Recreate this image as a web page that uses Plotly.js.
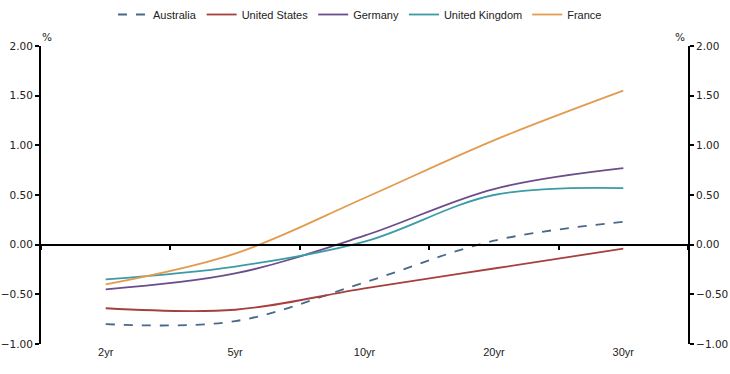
<!DOCTYPE html>
<html>
<head>
<meta charset="utf-8">
<script src="https://cdn.plot.ly/plotly-3.0.1.min.js"></script>
<style>html,body{margin:0;padding:0;background:#fff;}#chart{width:730px;height:374px;}</style>
</head>
<body>
<div id="chart"></div>
<script>
var categories = ["2yr", "5yr", "10yr", "20yr", "30yr"];
var seriesNames = ["Australia", "United States", "Germany", "United Kingdom", "France"];
var australia = [-0.80, -0.77, -0.38, 0.04, 0.23];
var unitedStates = [-0.64, -0.655, -0.44, -0.24, -0.04];
var germany = [-0.45, -0.29, 0.09, 0.56, 0.77];
var unitedKingdom = [-0.35, -0.22, 0.03, 0.50, 0.57];
var france = [-0.40, -0.09, 0.47, 1.05, 1.55];
var yTicks = [-1, -0.5, 0, 0.5, 1, 1.5, 2];

var colors = ["#4a6888", "#a5403e", "#6b4c8c", "#3c9ba6", "#e29b4f"];
var dashes = ["dash", "solid", "solid", "solid", "solid"];
var values = [australia, unitedStates, germany, unitedKingdom, france];

var FONT = "'Liberation Sans', Arial, sans-serif";
var TICKFONT = "'DejaVu Sans', Verdana, sans-serif";

var traces = values.map(function (v, i) {
  return {
    type: "scatter", mode: "lines", x: categories, y: v, name: seriesNames[i],
    xaxis: "x", yaxis: "y",
    line: {color: colors[i], width: 1.8, dash: dashes[i], shape: "spline", smoothing: 1}
  };
});
traces.push({type: "scatter", mode: "lines", x: categories, y: categories.map(function(){return null;}),
  xaxis: "x2", yaxis: "y2", showlegend: false, hoverinfo: "skip"});

var yCommon = {
  range: [-1, 2], tickmode: "array", tickvals: yTicks, tickformat: ".2f",
  showgrid: false, zeroline: false, showline: true, linecolor: "#000", linewidth: 2,
  ticks: "outside", ticklen: 4, tickwidth: 2, tickcolor: "#000",
  tickfont: {family: TICKFONT, size: 10.5, color: "#222"}, fixedrange: true
};

var layout = {
  width: 730, height: 374,
  margin: {l: 41, r: 42, t: 46, b: 30},
  paper_bgcolor: "#fff", plot_bgcolor: "#fff",
  font: {family: FONT, size: 11, color: "#222"},
  showlegend: true,
  legend: {orientation: "h", x: 0.493, xanchor: "center", yref: "container", y: 1.0, yanchor: "top",
    font: {family: FONT, size: 11, color: "#222"}, itemwidth: 30, tracegroupgap: 0,
    bgcolor: "rgba(0,0,0,0)"},
  xaxis: {
    type: "category", categoryorder: "array", categoryarray: categories,
    range: [-0.5, 4.5], anchor: "free", position: 1/3,
    showgrid: false, zeroline: false, showline: true, linecolor: "#000", linewidth: 2,
    ticks: "outside", tickson: "boundaries", ticklen: 4, tickwidth: 2, tickcolor: "#000",
    showticklabels: false, fixedrange: true
  },
  xaxis2: {
    type: "category", categoryorder: "array", categoryarray: categories,
    range: [-0.5, 4.5], overlaying: "x", anchor: "y", side: "bottom",
    showgrid: false, zeroline: false, showline: false, ticks: "",
    tickfont: {family: FONT, size: 11, color: "#222"}, fixedrange: true
  },
  yaxis: Object.assign({}, yCommon, {side: "left"}),
  yaxis2: Object.assign({}, yCommon, {side: "right", overlaying: "y", anchor: "x"}),
  annotations: [
    {xref: "paper", yref: "paper", x: 0.01, y: 1.03, text: "%", showarrow: false,
      xanchor: "center", yanchor: "middle", font: {family: TICKFONT, size: 10.5, color: "#222"}},
    {xref: "paper", yref: "paper", x: 0.988, y: 1.03, text: "%", showarrow: false,
      xanchor: "center", yanchor: "middle", font: {family: TICKFONT, size: 10.5, color: "#222"}}
  ]
};

Plotly.newPlot("chart", traces, layout, {displayModeBar: false, staticPlot: true});
</script>
</body>
</html>
